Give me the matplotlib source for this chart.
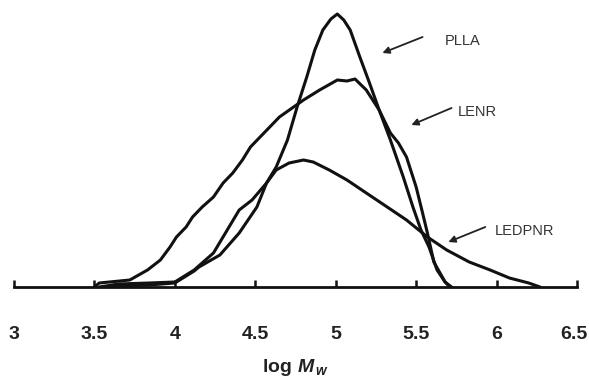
import matplotlib
matplotlib.use("Agg")
import matplotlib.pyplot as plt
from matplotlib.transforms import ScaledTranslation

plt.rcParams['mathtext.fontset'] = 'custom'
plt.rcParams['mathtext.rm'] = 'Liberation Sans:bold'
plt.rcParams['mathtext.it'] = 'Liberation Sans:italic:bold'

# ---- data (log Mw vs. relative signal) ----
plla_x = [3.57, 3.84, 4.00, 4.12, 4.15, 4.28, 4.40, 4.51, 4.57, 4.63, 4.70, 4.76, 4.82,
          4.87, 4.92, 4.97, 5.01, 5.05, 5.09, 5.15, 5.21, 5.27, 5.34, 5.42, 5.48, 5.53,
          5.58, 5.63, 5.68, 5.72]
plla_y = [0, 2, 4, 16, 20, 32, 54, 80, 104, 120, 147, 180, 210, 237, 257, 268, 273, 267,
          257, 230, 204, 177, 147, 110, 80, 57, 40, 17, 5, 0]

lenr_x = [3.50, 3.53, 3.72, 3.83, 3.91, 3.97, 4.01, 4.07, 4.11, 4.17, 4.24, 4.30, 4.36,
          4.42, 4.47, 4.53, 4.59, 4.65, 4.80, 4.90, 5.01, 5.07, 5.12, 5.19, 5.27, 5.34,
          5.39, 5.44, 5.50, 5.54, 5.57, 5.61, 5.68, 5.71]
lenr_y = [0, 4, 7, 17, 27, 40, 50, 60, 70, 80, 90, 104, 114, 127, 140, 150, 160, 170,
          187, 197, 207, 206, 208, 197, 177, 154, 144, 130, 100, 74, 54, 25, 5, 0]

ledpnr_x = [3.53, 3.65, 3.84, 4.00, 4.12, 4.24, 4.40, 4.48, 4.57, 4.63, 4.71, 4.80, 4.86,
            4.96, 5.07, 5.19, 5.32, 5.44, 5.57, 5.69, 5.83, 5.96, 6.08, 6.20, 6.27]
ledpnr_y = [0, 3, 4, 5, 17, 34, 77, 87, 104, 117, 124, 127, 125, 117, 107, 94, 80, 67,
            50, 37, 25, 17, 9, 4, 0]

xticks = [3, 3.5, 4, 4.5, 5, 5.5, 6, 6.5]
xtick_labels = ['3', '3.5', '4', '4.5', '5', '5.5', '6', '6.5']

names = ['PLLA', 'LENR', 'LEDPNR']
label_pos = [(5.68, 246), (5.76, 175), (5.99, 56)]
arrow_tail = [(5.54, 250), (5.72, 179), (5.93, 60)]
arrow_head = [(5.29, 234), (5.47, 162), (5.70, 45)]

W, H = 589, 381
fig = plt.figure(figsize=(W / 100, H / 100), dpi=100)
ax = fig.add_axes([14 / W, 94 / H, 563 / W, 287 / H])

col = '#111111'
for xs, ys in [(plla_x, plla_y), (lenr_x, lenr_y), (ledpnr_x, ledpnr_y)]:
    ax.plot(xs, ys, color=col, lw=2.2, solid_joinstyle='round', solid_capstyle='round')

ax.set_xlim(3, 6.5)
ax.set_ylim(0, 287)
for s in ['top', 'right', 'left']:
    ax.spines[s].set_visible(False)
ax.spines['bottom'].set_linewidth(2.0)
ax.spines['bottom'].set_color(col)
ax.set_yticks([])
ax.set_xticks(xticks)
ax.set_xticklabels(xtick_labels, family='Liberation Sans', fontsize=14, fontweight='bold',
                   color='#222222')
ax.tick_params(axis='x', direction='in', length=5, width=1.8, color=col, pad=28)
for t in ax.xaxis.get_major_ticks():
    t.tick1line.set_clip_on(False)
# keep the last label inside the figure edge
last = ax.get_xticklabels()[-1]
last.set_transform(last.get_transform() + ScaledTranslation(-3 / 100, 0, fig.dpi_scale_trans))

for name, lp, tail, head in zip(names, label_pos, arrow_tail, arrow_head):
    ax.text(lp[0], lp[1], name, family='Liberation Sans', fontsize=10.5,
            color='#333333', va='center', ha='left')
    ax.annotate('', xy=head, xytext=tail,
                arrowprops=dict(arrowstyle='-|>', color='#222222', lw=1.3,
                                mutation_scale=10, shrinkA=0, shrinkB=0))

fig.text(295 / W, 1 - 368 / H, r'$\mathrm{log}\ \mathit{M}_{\,w}$', fontsize=14,
         ha='center', va='center', color='#222222')

fig.savefig('out.png', dpi=100)
